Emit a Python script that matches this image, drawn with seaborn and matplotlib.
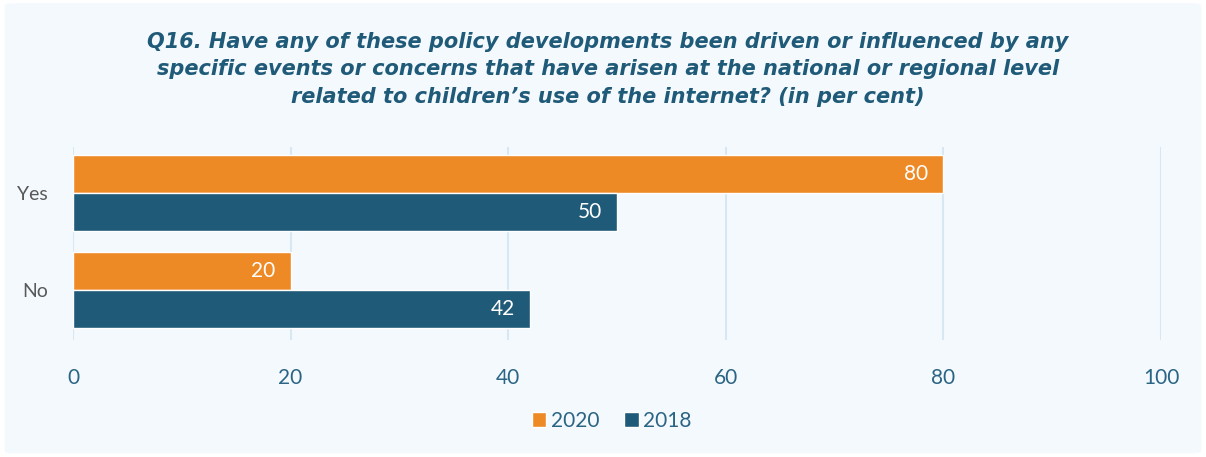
import pandas as pd
import matplotlib
matplotlib.use("Agg")
import matplotlib.pyplot as plt
from matplotlib.patches import Patch, FancyBboxPatch
import seaborn as sns

# data
answers = ["Yes", "No"]
years = ["2020", "2018"]
values_2020 = [80, 20]
values_2018 = [50, 42]
x_ticks = [0, 20, 40, 60, 80, 100]

title = ("Q16. Have any of these policy developments been driven or influenced by any\n"
         "specific events or concerns that have arisen at the national or regional level\n"
         "related to children\u2019s use of the internet? (in per cent)")

orange = "#EE8A25"
navy = "#1F5A78"
teal_text = "#2B6584"
bg = "#F4F9FE"
grid_col = "#D8E8F2"

df = pd.DataFrame({
    "answer": answers * 2,
    "year": [years[0]] * len(answers) + [years[1]] * len(answers),
    "value": values_2020 + values_2018,
})

sns.set_style("white")
plt.rcParams["font.family"] = ["Lato", "DejaVu Sans"]

fig = plt.figure(figsize=(12.06, 4.57), dpi=100)
fig.patch.set_facecolor("white")
card = FancyBboxPatch((0.004, 0.008), 0.992, 0.985,
                      boxstyle="round,pad=0,rounding_size=0.006",
                      transform=fig.transFigure, facecolor=bg,
                      edgecolor="none", zorder=-10)
fig.patches.append(card)

ax = fig.add_axes([0.0605, 0.256, 0.9022, 0.422])
ax.set_facecolor("none")

sns.barplot(data=df, x="value", y="answer", hue="year", order=answers,
            hue_order=years, palette=[orange, navy], orient="h",
            width=0.78, saturation=1, ax=ax, legend=False, zorder=3)

# value labels inside the bar ends
for cont in ax.containers:
    for rect in cont:
        w = rect.get_width()
        ax.annotate(f"{w:.0f}", (rect.get_x() + w, rect.get_y() + rect.get_height() / 2),
                    xytext=(-11, 0), textcoords="offset points", ha="right",
                    va="center", color="white", fontsize=15, zorder=4)

ax.set_xlim(0, 100)
ax.set_ylim(1.515, -0.474)
ax.set_xticks(x_ticks)
ax.set_xticklabels([str(t) for t in x_ticks], color=teal_text, fontsize=15)
ax.tick_params(axis="x", length=0, pad=20)
ax.tick_params(axis="y", length=0, pad=18, labelsize=14, labelcolor="#595959")
ax.set_xlabel("")
ax.set_ylabel("")
ax.xaxis.grid(True, color=grid_col, linewidth=1.5, zorder=0)
ax.yaxis.grid(False)
for s in ax.spines.values():
    s.set_visible(False)

fig.text(0.504, 0.931, title, ha="center", va="top", fontsize=15,
         fontweight="bold", fontstyle="italic", color=navy, linespacing=1.47,
         family=["DejaVu Sans"])

handles = [Patch(facecolor=orange, label=years[0]), Patch(facecolor=navy, label=years[1])]
leg = fig.legend(handles=handles, loc="center", bbox_to_anchor=(0.507, 0.079),
                 ncol=2, frameon=False, fontsize=15, handlelength=0.7,
                 handleheight=0.7, handletextpad=0.2, columnspacing=1.2)
for t in leg.get_texts():
    t.set_color(teal_text)

fig.savefig("out.png", dpi=100, facecolor=fig.get_facecolor())
